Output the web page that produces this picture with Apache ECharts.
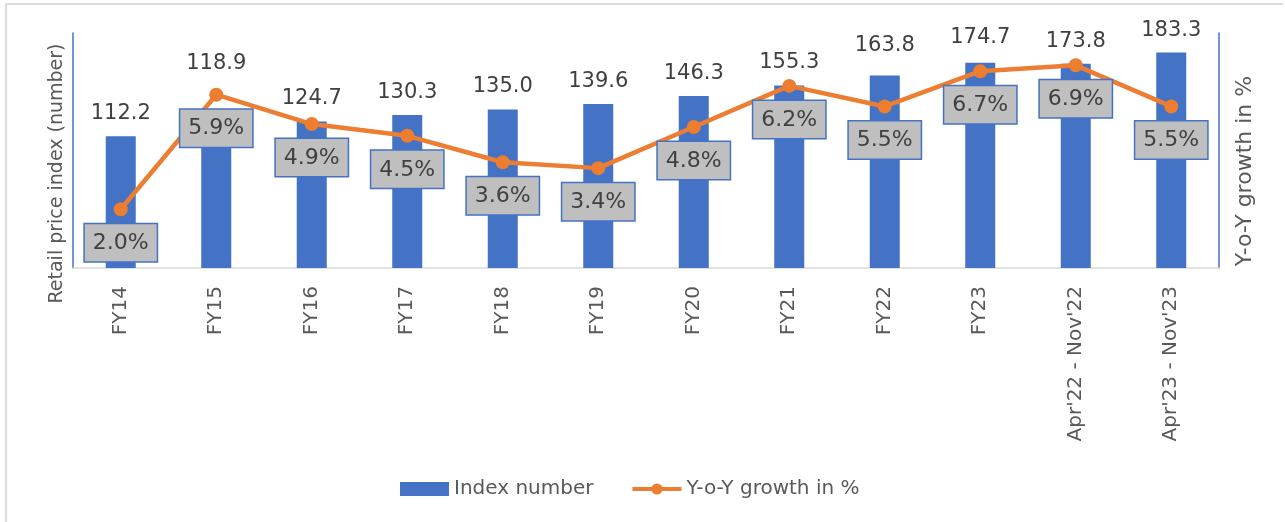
<!DOCTYPE html>
<html>
<head>
<meta charset="utf-8">
<script src="https://cdn.jsdelivr.net/npm/echarts@6/dist/echarts.min.js"></script>
<style>
  html, body { margin: 0; padding: 0; background: #fff; }
  #chart { width: 1285px; height: 522px; }
  .frame {
    position: absolute; left: 5px; top: 3px; width: 1276px; height: 530px;
    border-left: 2px solid #dcdcdc; border-top: 2px solid #dcdcdc;
    pointer-events: none;
  }
</style>
</head>
<body>
<div id="chart"></div>
<div class="frame"></div>
<script>
  // ==== data ====
  const categories = ['FY14', 'FY15', 'FY16', 'FY17', 'FY18', 'FY19', 'FY20', 'FY21', 'FY22', 'FY23', "Apr'22 - Nov'22", "Apr'23 - Nov'23"]
  const indexNumber = [112.2, 118.9, 124.7, 130.3, 135.0, 139.6, 146.3, 155.3, 163.8, 174.7, 173.8, 183.3]
  const yoyGrowth = [2.0, 5.9, 4.9, 4.5, 3.6, 3.4, 4.8, 6.2, 5.5, 6.7, 6.9, 5.5]

  const font = 'DejaVu Sans'
  const chart = echarts.init(document.getElementById('chart'))

  // a few bar labels were nudged up in the original to clear the line
  const labelLift = { FY15: -42, FY22: -7, FY23: -3 }
  const barData = indexNumber.map((v, i) => {
    const lift = labelLift[categories[i]]
    return lift ? { value: v, label: { offset: [0, lift] } } : v
  })

  chart.setOption({
    animation: false,
    textStyle: { fontFamily: font },
    grid: { left: 73, right: 66, top: 33, bottom: 254 },
    legend: {
      bottom: 18,
      left: 395,
      itemWidth: 49,
      itemHeight: 14,
      itemGap: 37,
      textStyle: { fontSize: 20, color: '#595959', fontFamily: font },
      data: [
        { name: 'Index number', icon: 'rect' },
        { name: 'Y-o-Y growth in %', lineStyle: { width: 4 } }
      ]
    },
    xAxis: {
      type: 'category',
      data: categories,
      axisLine: { lineStyle: { color: '#d9d9d9', width: 1.5 } },
      axisTick: { show: false },
      axisLabel: { rotate: 90, margin: 18, fontSize: 20, color: '#595959', interval: 0 }
    },
    yAxis: [
      {
        type: 'value',
        min: 0,
        max: 200,
        name: 'Retail price index (number)',
        nameLocation: 'middle',
        nameRotate: 90,
        nameGap: 6,
        nameTextStyle: { fontSize: 19, color: '#595959', padding: [0, 46, 0, 0] },
        axisLine: { show: true, lineStyle: { color: '#4472c4', width: 1.5 } },
        axisTick: { show: false },
        axisLabel: { show: false },
        splitLine: { show: false }
      },
      {
        type: 'value',
        min: 0,
        max: 8,
        position: 'right',
        name: 'Y-o-Y growth in %',
        nameLocation: 'middle',
        nameRotate: 90,
        nameGap: 15,
        nameTextStyle: { fontSize: 22, color: '#595959', padding: [0, 41, 0, 0] },
        axisLine: { show: true, lineStyle: { color: '#4472c4', width: 1.5 } },
        axisTick: { show: false },
        axisLabel: { show: false },
        splitLine: { show: false }
      }
    ],
    series: [
      {
        name: 'Index number',
        type: 'bar',
        data: barData,
        barWidth: 30,
        itemStyle: { color: '#4472c4' },
        label: {
          show: true,
          position: 'top',
          distance: 12,
          fontSize: 21,
          color: '#404040',
          formatter: (p) => p.value.toFixed(1)
        }
      },
      {
        name: 'Y-o-Y growth in %',
        type: 'line',
        yAxisIndex: 1,
        data: yoyGrowth,
        symbol: 'circle',
        symbolSize: 14,
        itemStyle: { color: '#ed7d31' },
        lineStyle: { color: '#ed7d31', width: 4.5 },
        z: 5,
        label: {
          show: true,
          position: 'bottom',
          distance: 8,
          fontSize: 22,
          color: '#404040',
          backgroundColor: '#bfbfbf',
          borderColor: '#4472c4',
          borderWidth: 1.5,
          padding: [8, 8, 7, 8],
          formatter: (p) => p.value.toFixed(1) + '%'
        }
      }
    ]
  })
</script>
</body>
</html>
